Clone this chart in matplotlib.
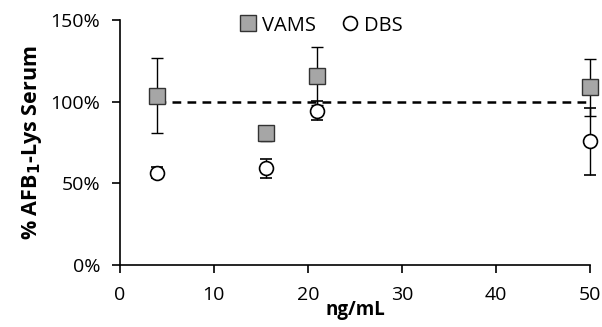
import matplotlib.pyplot as plt

# concentrations (ng/mL) and recovery (% of serum AFB1-Lys)
conc = [4.0, 15.6, 21.0, 50.0]
vams = [103.5, 80.6, 115.7, 108.8]
vams_err = [23.0, 4.5, 18.0, 17.5]
dbs = [56.5, 59.2, 94.5, 75.7]
dbs_err = [3.5, 5.8, 6.0, 20.6]
ref_x = [4.0, 50.0]
ref_y = [100, 100]

plt.rcParams['font.family'] = ['Open Sans', 'DejaVu Sans']

fig = plt.figure(figsize=(6.02, 3.27), dpi=100)
ax = fig.add_axes([0.199, 0.19, 0.781, 0.749])

ax.plot(ref_x, ref_y, color='black', linestyle=(0, (3.5, 2.5)), linewidth=1.8, zorder=1, clip_on=False)

ax.errorbar(conc, vams, yerr=vams_err, fmt='s', markersize=11, markerfacecolor='#a6a6a6',
            markeredgecolor='#333333', markeredgewidth=1, ecolor='black', elinewidth=1,
            capsize=4, capthick=1, label='VAMS', zorder=3, clip_on=False)
ax.errorbar(conc, dbs, yerr=dbs_err, fmt='o', markersize=10, markerfacecolor='white',
            markeredgecolor='black', markeredgewidth=1.2, ecolor='black', elinewidth=1,
            capsize=4, capthick=1, label='DBS', zorder=3, clip_on=False)

ax.set_xlim(0, 50)
ax.set_ylim(0, 150)
ax.set_xticks([0, 10, 20, 30, 40, 50])
ax.set_yticks([0, 50, 100, 150])
ax.set_yticklabels(['0%', '50%', '100%', '150%'])
ax.tick_params(labelsize=14, direction='out', length=6, width=1.2)
ax.tick_params(axis='x', pad=9)
ax.tick_params(axis='y', pad=8)

for side in ['top', 'right']:
    ax.spines[side].set_visible(False)
for side in ['left', 'bottom']:
    ax.spines[side].set_linewidth(1.2)

ax.set_xlabel('ng/mL', fontsize=13.5, fontweight='bold', labelpad=-3)
ax.set_ylabel('% AFB$_\\mathbf{1}$-Lys Serum', fontsize=15.5, fontweight='bold', labelpad=5)

handles, labels = ax.get_legend_handles_labels()
handles = [h[0] for h in handles]
ax.legend(handles, labels, loc='center', bbox_to_anchor=(0.53, 0.922), bbox_transform=fig.transFigure,
          ncol=2, frameon=False, fontsize=14.5, handletextpad=0.1, columnspacing=1.1, handlelength=1.2)

plt.savefig('out.png', dpi=100)
plt.close()
